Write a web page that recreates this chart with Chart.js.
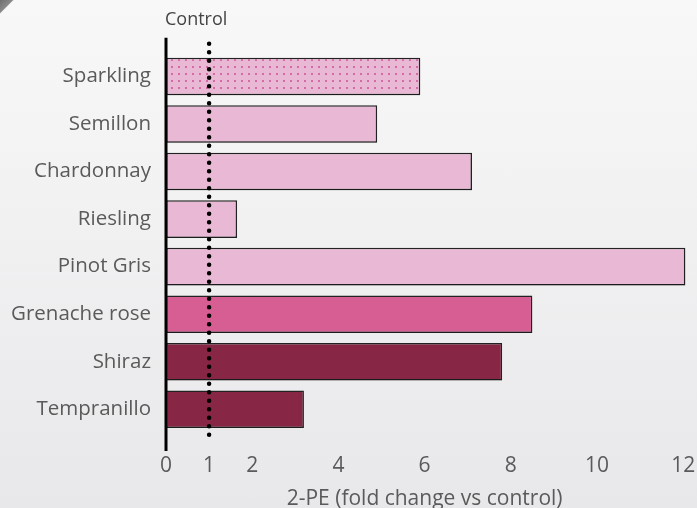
<!DOCTYPE html>
<html>
<head>
<meta charset="utf-8">
<script src="https://cdn.jsdelivr.net/npm/chart.js@4/dist/chart.umd.min.js"></script>
<style>
  html, body { margin: 0; padding: 0; }
  body {
    width: 697px; height: 508px; overflow: hidden;
    background: linear-gradient(135deg, #6e6e6e 0, #8a8a8a 9px, transparent 10px),
                linear-gradient(180deg, #f8f8f9 0%, #e8e8ea 100%);
  }
  #wrap { position: relative; width: 697px; height: 508px; }
</style>
</head>
<body>
<div id="wrap"><canvas id="grafico"></canvas></div>
<script>
// dados
const vinhos = ["Sparkling", "Semillon", "Chardonnay", "Riesling", "Pinot Gris", "Grenache rose", "Shiraz", "Tempranillo"];
const foldChange = [5.9, 4.9, 7.1, 1.65, 12.05, 8.5, 7.8, 3.2];
const xTicks = [0, 1, 2, 4, 6, 8, 10, 12];
const valorControle = 1;
const tituloX = "2-PE (fold change vs control)";
const rotuloControle = "Control";

// cores
const rosaClaro = "#e8b8d4";
const rosaForte = "#d65e93";
const vinho = "#882645";

// padrao pontilhado do espumante
function criarPadrao() {
  const c = document.createElement("canvas");
  c.width = 7; c.height = 7;
  const g = c.getContext("2d");
  g.fillStyle = rosaClaro;
  g.fillRect(0, 0, 7, 7);
  g.fillStyle = "#d46aa6";
  g.fillRect(3, 3, 2, 2);
  return g.createPattern(c, "repeat");
}

const cores = [criarPadrao(), rosaClaro, rosaClaro, rosaClaro, rosaClaro, rosaForte, vinho, vinho];

const fonte = "'Open Sans', sans-serif";
const corTexto = "#5a5a5a";

// linha de controle, eixo e titulos
const extras = {
  id: "extras",
  beforeDatasetsDraw(chart) {
    const ctx = chart.ctx;
    ctx.save();
    ctx.shadowColor = "rgba(0,0,0,0.18)";
    ctx.shadowOffsetY = 2;
    ctx.shadowBlur = 1;
  },
  afterDatasetsDraw(chart) {
    const ctx = chart.ctx;
    ctx.restore();
    const area = chart.chartArea;
    const x = chart.scales.x;
    const x0 = x.getPixelForValue(0);
    const xc = x.getPixelForValue(valorControle);

    ctx.save();
    // eixo vertical
    ctx.strokeStyle = "#000";
    ctx.lineWidth = 3;
    ctx.beginPath();
    ctx.moveTo(x0, area.top - 15);
    ctx.lineTo(x0, area.bottom + 18);
    ctx.stroke();

    // linha pontilhada
    ctx.lineWidth = 4.5;
    ctx.lineCap = "round";
    ctx.setLineDash([0, 8.5]);
    ctx.beginPath();
    ctx.moveTo(xc, area.top - 9);
    ctx.lineTo(xc, area.bottom + 7);
    ctx.stroke();
    ctx.setLineDash([]);

    // textos
    ctx.fillStyle = "#444";
    ctx.font = "18px " + fonte;
    ctx.textAlign = "left";
    ctx.textBaseline = "middle";
    ctx.fillText(rotuloControle, x0 - 1, 20);

    ctx.fillStyle = corTexto;
    ctx.font = "21px " + fonte;
    ctx.textAlign = "center";
    ctx.fillText(tituloX, (x0 + x.getPixelForValue(12)) / 2, 499);
    ctx.restore();
  },
};

new Chart(document.getElementById("grafico"), {
  type: "bar",
  data: {
    labels: vinhos,
    datasets: [
      {
        data: foldChange,
        backgroundColor: cores,
        borderColor: "#222",
        borderWidth: 1.5,
        borderSkipped: false,
        categoryPercentage: 1,
        barPercentage: 0.79,
      },
    ],
  },
  options: {
    indexAxis: "y",
    responsive: true,
    maintainAspectRatio: false,
    animation: false,
    layout: { padding: { top: 52.75, right: 0, left: 0, bottom: 0 } },
    plugins: {
      legend: { display: false },
      tooltip: { enabled: false },
    },
    scales: {
      x: {
        min: 0,
        max: 12.32,
        grid: { display: false, drawTicks: false },
        border: { display: false },
        afterBuildTicks: (s) => { s.ticks = xTicks.map((v) => ({ value: v })); },
        afterFit: (s) => { s.height = 75; s.paddingLeft = 0; s.paddingRight = 0; },
        ticks: {
          color: corTexto,
          padding: 20,
          font: { family: fonte, size: 21 },
        },
      },
      y: {
        grid: { display: false, drawTicks: false },
        border: { display: false },
        afterFit: (s) => { s.width = 166; s.paddingTop = 0; s.paddingBottom = 0; },
        ticks: {
          color: corTexto,
          padding: 15,
          font: { family: fonte, size: 20.5 },
        },
      },
    },
  },
  plugins: [extras],
});
</script>
</body>
</html>
